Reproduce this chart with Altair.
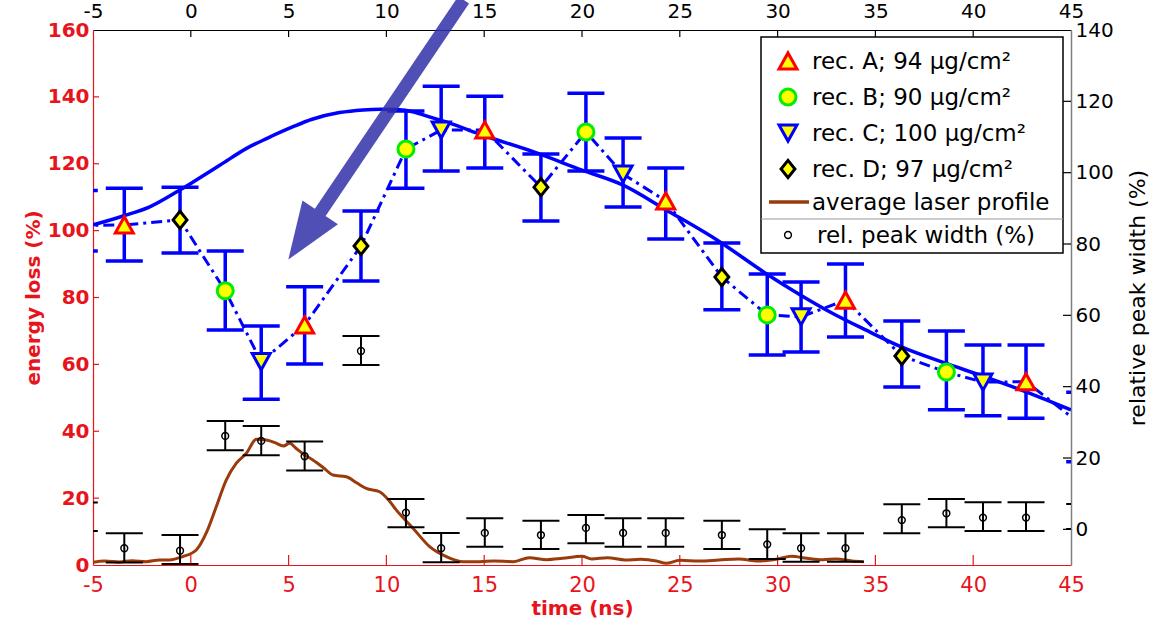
import altair as alt
import pandas as pd

# ---------------- data ----------------
shot_time = [-3.4, -0.55, 1.76, 3.6, 5.82, 8.7, 11.0, 12.8, 15.03, 17.9, 20.2,
             22.1, 24.28, 27.15, 29.47, 31.2, 33.47, 36.35, 38.63, 40.5, 42.7]
shot_series = ["A", "D", "B", "C"] * 5 + ["A"]
energy_loss = [101.7, 103.2, 82.0, 60.8, 71.8, 95.4, 124.4, 130.1, 130.1, 113.0,
               129.5, 116.9, 108.9, 86.1, 74.8, 74.2, 79.2, 62.5, 57.7, 54.7, 54.8]
energy_loss_lo = [90.9, 93.3, 70.3, 49.6, 60.1, 84.9, 112.7, 117.8, 118.7, 102.9,
                  117.8, 107.1, 97.5, 76.3, 62.8, 63.7, 68.2, 53.2, 46.4, 44.6, 43.9]
energy_loss_hi = [112.7, 113.0, 93.9, 71.5, 83.2, 105.9, 135.8, 143.2, 140.2, 122.9,
                  141.1, 127.7, 118.7, 96.3, 87.0, 84.6, 90.0, 73.0, 70.0, 65.8, 65.8]
peak_width = [-5.3, -6.0, 26.2, 24.8, 20.5, 50.0, 4.7, -5.3, -1.0, -1.6, 0.4,
              -1.0, -1.0, -1.6, -4.2, -5.3, -5.3, 2.6, 4.5, 3.3, 3.3]
peak_width_lo = [-9.3, -9.7, 22.2, 20.8, 16.5, 46.1, 0.6, -9.2, -4.9, -5.5, -3.9,
                 -4.9, -4.9, -5.5, -8.3, -9.1, -9.1, -1.1, 0.6, -0.5, -0.5]
peak_width_hi = [-1.1, -1.6, 30.4, 29.0, 24.6, 54.2, 8.5, -1.0, 3.1, 2.4, 4.0,
                 3.1, 3.1, 2.4, 0.0, -1.1, -1.1, 7.0, 8.5, 7.6, 7.6]

# shots just outside the time window (only partly visible at the edges)
edge_time = [-5.7, 45.7]
edge_energy_loss = [101.5, 41.2]
edge_energy_loss_lo = [93.9, 30.9]
edge_energy_loss_hi = [112.0, 51.7]
edge_peak_width = [3.5, 3.6]
edge_peak_width_lo = [-0.5, 0.1]
edge_peak_width_hi = [7.5, 7.1]

fit_time = [-5, -3.5, -2.1, -0.6, 0, 1.5, 2.85, 3.9, 5.2, 6.2, 7.6, 8.8, 9.7, 10.5,
            11.4, 12.2, 13.2, 14.9, 17.5, 20.0, 22.1, 24.3, 26.9, 29.4, 31.1, 32.8,
            34.5, 36.3, 38.5, 40.5, 42.7, 45]
fit_energy = [101.7, 104.3, 107.1, 112.0, 114.1, 119.6, 124.6, 127.6, 131.0, 133.3,
              135.3, 136.1, 136.3, 136.2, 135.5, 134.0, 132.2, 128.6, 123.6, 118.1,
              113.6, 106.2, 97.2, 87.2, 81.0, 75.3, 70.3, 65.3, 60.5, 56.5, 51.8, 46.4]

laser_time = [-5.0, -4.4, -3.64, -3.0, -2.28, -1.6, -1.09, -0.42, 0.28, 0.79,
              1.3, 1.81, 2.32, 2.84, 3.35, 3.86, 4.3, 4.74, 5.05, 5.36,
              5.8, 6.24, 6.8, 7.27, 7.95, 8.5, 8.97, 9.65, 10.1, 10.51,
              11.36, 12.21, 13.07, 13.92, 14.77, 15.5, 16.5, 17.3, 18.2, 19.0,
              20.0, 20.5, 21.3, 22.2, 23.0, 23.8, 24.3, 25.0, 26.0, 27.0,
              28.0, 29.0, 30.0, 30.7, 31.5, 32.3, 33.0, 33.8, 34.4]
laser_energy = [0.8, 1.2, 0.9, 1.3, 1.0, 1.5, 1.5, 2.5, 4.5, 9.6,
                17.4, 25.4, 30.4, 33.4, 37.6, 37.4, 36.6, 35.6, 36.4, 35.0,
                33.0, 31.4, 29.0, 26.9, 26.4, 24.5, 22.9, 21.9, 19.5, 16.4,
                11.0, 5.5, 2.5, 1.0, 1.0, 1.2, 1.0, 2.2, 1.6, 2.0,
                2.6, 1.8, 2.2, 1.5, 1.7, 1.2, 0.5, 1.4, 1.2, 1.5,
                1.8, 1.2, 1.8, 2.6, 2.0, 1.6, 1.8, 1.2, 1.0]

arrow_time = [13.95, 6.61]
arrow_energy = [169.0, 105.35]
arrow_head_time = [5.80]
arrow_head_energy = [98.4]

series_names = ["A", "B", "C", "D"]
legend_labels = ["rec. A; 94 μg/cm²", "rec. B; 90 μg/cm²", "rec. C; 100 μg/cm²",
                 "rec. D; 97 μg/cm²", "average laser profile", "rel. peak width (%)"]

x_tick_values = [-5, 0, 5, 10, 15, 20, 25, 30, 35, 40, 45]
left_tick_values = [0, 20, 40, 60, 80, 100, 120, 140, 160]
right_tick_values = [0, 20, 40, 60, 80, 100, 120, 140]

# ---------------- styling ----------------
FONT = "DejaVu Sans"
RED = "#e8141c"
BLUE = "#0000ff"
BROWN = "#9a3b0c"
YELLOW = "#ffff00"
ARROW = "#3030a8"
W, H = 978, 535

TRI_UP = "M0,-0.9L1,0.9L-1,0.9Z"
TRI_DOWN = "M-1,-0.9L1,-0.9L0,0.9Z"
DIAMOND = "M0,-1L0.8,0L0,1L-0.8,0Z"
ARROW_HEAD = "M0,-1L0.75,1L-0.75,1Z"
marker_style = {
    "A": dict(shape=TRI_UP, stroke="#ff0000", size=324),
    "B": dict(shape="circle", stroke="#00ee00", size=256),
    "C": dict(shape=TRI_DOWN, stroke=BLUE, size=324),
    "D": dict(shape=DIAMOND, stroke="#000000", size=300),
}

AX_BOTTOM = alt.Axis(orient="bottom", values=x_tick_values, labelExpr="'' + datum.value",
                     ticks=False, grid=False, domainColor=RED, domainWidth=1.2,
                     labelColor=RED, labelFont=FONT, labelFontSize=21, labelPadding=9,
                     labelFlush=False, labelOverlap=False,
                     title="time (ns)", titleColor=RED, titleFont=FONT, titleFontSize=20,
                     titleFontWeight="bold", titlePadding=3)
AX_LEFT = alt.Axis(orient="left", values=left_tick_values, labelExpr="'' + datum.value",
                   ticks=False, grid=False, domainColor=RED, domainWidth=1.2,
                   labelColor=RED, labelFont=FONT, labelFontSize=20, labelFontWeight="bold",
                   labelPadding=4, labelFlush=False, labelOverlap=False,
                   title="energy loss (%)", titleColor=RED, titleFont=FONT, titleFontSize=20,
                   titleFontWeight="bold", titlePadding=4)
AX_TOP = alt.Axis(orient="top", values=x_tick_values, labelExpr="'' + datum.value",
                  ticks=False, grid=False, domainColor="#000000", domainWidth=1.2,
                  labelColor="#000000", labelFont=FONT, labelFontSize=20, labelPadding=9,
                  labelFlush=False, labelOverlap=False, title=None)
AX_RIGHT = alt.Axis(orient="right", values=right_tick_values, labelExpr="'' + datum.value",
                    ticks=False, grid=False, domainColor="#808080", domainWidth=1.5,
                    labelColor="#000000", labelFont=FONT, labelFontSize=20, labelPadding=4,
                    labelFlush=False, labelOverlap=False,
                    title="relative peak width (%)", titleColor="#000000", titleFont=FONT,
                    titleFontSize=22, titleFontWeight="normal", titleAngle=270,
                    titleBaseline="top", titlePadding=14)


def xb(field="t"):
    return alt.X(f"{field}:Q", scale=alt.Scale(domain=[-5, 45], nice=False, zero=False), axis=AX_BOTTOM)


def yl(field):
    return alt.Y(f"{field}:Q", scale=alt.Scale(domain=[0, 160], nice=False, zero=False), axis=AX_LEFT)


def xt(field="t"):
    return alt.X(f"{field}:Q", scale=alt.Scale(domain=[-5, 45], nice=False, zero=False), axis=AX_TOP)


def yr(field):
    return alt.Y(f"{field}:Q", scale=alt.Scale(domain=[-10, 140], nice=False, zero=False), axis=AX_RIGHT)


# ---------------- tables ----------------
shots = pd.DataFrame({"t": shot_time, "series": shot_series, "el": energy_loss,
                      "lo": energy_loss_lo, "hi": energy_loss_hi, "pw": peak_width,
                      "pw_lo": peak_width_lo, "pw_hi": peak_width_hi})
edges = pd.DataFrame({"t": edge_time, "series": ["edge", "edge"], "el": edge_energy_loss,
                      "lo": edge_energy_loss_lo, "hi": edge_energy_loss_hi, "pw": edge_peak_width,
                      "pw_lo": edge_peak_width_lo, "pw_hi": edge_peak_width_hi})
all_shots = pd.concat([shots, edges]).sort_values("t").reset_index(drop=True)
fit_df = pd.DataFrame({"t": fit_time, "el": fit_energy})
laser_df = pd.DataFrame({"t": laser_time, "el": laser_energy})
arrow_df = pd.DataFrame({"t": arrow_time, "el": arrow_energy})
head_df = pd.DataFrame({"t": arrow_head_time, "el": arrow_head_energy})

# ---------------- left (energy loss) group ----------------
base_all = alt.Chart(all_shots)
left_layers = [
    alt.Chart(pd.DataFrame({"el": left_tick_values[1:-1]})).mark_rule(color=RED, strokeWidth=1.2)
    .encode(y=yl("el"), x=alt.value(0), x2=alt.value(6)),
    alt.Chart(pd.DataFrame({"t": x_tick_values[1:-1]})).mark_rule(color=RED, strokeWidth=1.2)
    .encode(x=xb("t"), y=alt.value(H), y2=alt.value(H - 10)),
    base_all.mark_rule(color=BLUE, strokeWidth=3.5, clip=True).encode(x=xb(), y=yl("lo"), y2="hi:Q"),
    base_all.mark_tick(color=BLUE, orient="horizontal", size=37, thickness=3.5, opacity=1, clip=True)
    .encode(x=xb(), y=yl("lo")),
    base_all.mark_tick(color=BLUE, orient="horizontal", size=37, thickness=3.5, opacity=1, clip=True)
    .encode(x=xb(), y=yl("hi")),
    alt.Chart(fit_df).mark_line(color=BLUE, strokeWidth=3.5, interpolate="monotone", clip=True)
    .encode(x=xb(), y=yl("el")),
    base_all.mark_line(color=BLUE, strokeWidth=3, strokeDash=[11, 5, 3, 5], clip=True)
    .encode(x=xb(), y=yl("el"), order="t:Q"),
    alt.Chart(laser_df).mark_line(color=BROWN, strokeWidth=3, interpolate="monotone", clip=True)
    .encode(x=xb(), y=yl("el")),
]
for s in series_names:
    st = marker_style[s]
    left_layers.append(
        alt.Chart(shots).transform_filter(alt.datum.series == s)
        .mark_point(shape=st["shape"], size=st["size"], filled=True, fill=YELLOW, stroke=st["stroke"],
                    strokeWidth=3, opacity=1, fillOpacity=1, strokeOpacity=1, clip=True)
        .encode(x=xb(), y=yl("el"))
    )
left_layers.append(
    alt.Chart(arrow_df).mark_line(color=ARROW, strokeWidth=13, opacity=0.85, strokeCap="butt", clip=False)
    .encode(x=xb(), y=yl("el"))
)
left_layers.append(
    alt.Chart(head_df).mark_point(shape=ARROW_HEAD, size=3250, angle=214, filled=True, fill=ARROW,
                                  opacity=0.85, strokeWidth=0, clip=False)
    .encode(x=xb(), y=yl("el"))
)
left = alt.layer(*left_layers)

# ---------------- right (peak width) group ----------------
right_layers = [
    alt.Chart(pd.DataFrame({"t": x_tick_values[1:-1]})).mark_rule(color="#000000", strokeWidth=1.2)
    .encode(x=xt("t"), y=alt.value(0), y2=alt.value(7)),
    alt.Chart(pd.DataFrame({"v": right_tick_values[:-1]})).mark_rule(color="#000000", strokeWidth=1.2)
    .encode(y=yr("v"), x=alt.value(W), x2=alt.value(W - 8)),
    base_all.mark_rule(color="#000000", strokeWidth=2, clip=True).encode(x=xt(), y=yr("pw_lo"), y2="pw_hi:Q"),
    base_all.mark_tick(color="#000000", orient="horizontal", size=37, thickness=2, opacity=1, clip=True)
    .encode(x=xt(), y=yr("pw_lo")),
    base_all.mark_tick(color="#000000", orient="horizontal", size=37, thickness=2, opacity=1, clip=True)
    .encode(x=xt(), y=yr("pw_hi")),
    alt.Chart(shots).mark_point(shape="circle", size=46, filled=False, stroke="#000000",
                                strokeWidth=1.5, opacity=1, clip=True)
    .encode(x=xt(), y=yr("pw")),
]
right = alt.layer(*right_layers)

# ---------------- legend box ----------------
one = pd.DataFrame({"k": [0]})
LX0, LX1, LY0, LY1 = 668, 970, 7, 223
entry_y = [31, 67, 103, 139, 172, 205]
sym_x = 695
legend_layers = [
    alt.Chart(one).mark_rect(fill="#ffffff", stroke="#000000", strokeWidth=1.5)
    .encode(x=alt.value(LX0), x2=alt.value(LX1), y=alt.value(LY0), y2=alt.value(LY1)),
    alt.Chart(one).mark_rule(color="#999999", strokeWidth=1.2)
    .encode(x=alt.value(LX0), x2=alt.value(LX1), y=alt.value(189)),
    alt.Chart(one).mark_rule(color=BROWN, strokeWidth=3.5)
    .encode(x=alt.value(676), x2=alt.value(716), y=alt.value(entry_y[4])),
    alt.Chart(one).mark_point(shape="circle", size=46, filled=False, stroke="#000000", strokeWidth=1.5, opacity=1)
    .encode(x=alt.value(sym_x), y=alt.value(entry_y[5])),
]
for i, s in enumerate(series_names):
    st = marker_style[s]
    legend_layers.append(
        alt.Chart(one).mark_point(shape=st["shape"], size=st["size"], filled=True, fill=YELLOW,
                                  stroke=st["stroke"], strokeWidth=3, opacity=1, fillOpacity=1, strokeOpacity=1)
        .encode(x=alt.value(sym_x), y=alt.value(entry_y[i]))
    )
for i, lab in enumerate(legend_labels):
    legend_layers.append(
        alt.Chart(one).mark_text(text=lab, font=FONT, fontSize=23, align="left", baseline="middle",
                                 color="#000000")
        .encode(x=alt.value(724 if i == 5 else 719), y=alt.value(entry_y[i] + 1))
    )
legend = alt.layer(*legend_layers)

chart = (
    alt.layer(left, right, legend)
    .resolve_scale(x="independent", y="independent")
    .properties(width=W, height=H, padding={"left": 93, "top": 30, "right": 92, "bottom": 60},
                autosize=alt.AutoSizeParams(type="none"))
    .configure_view(stroke=None)
)

chart.save("out.html", embed_options={"renderer": "svg", "actions": False})
